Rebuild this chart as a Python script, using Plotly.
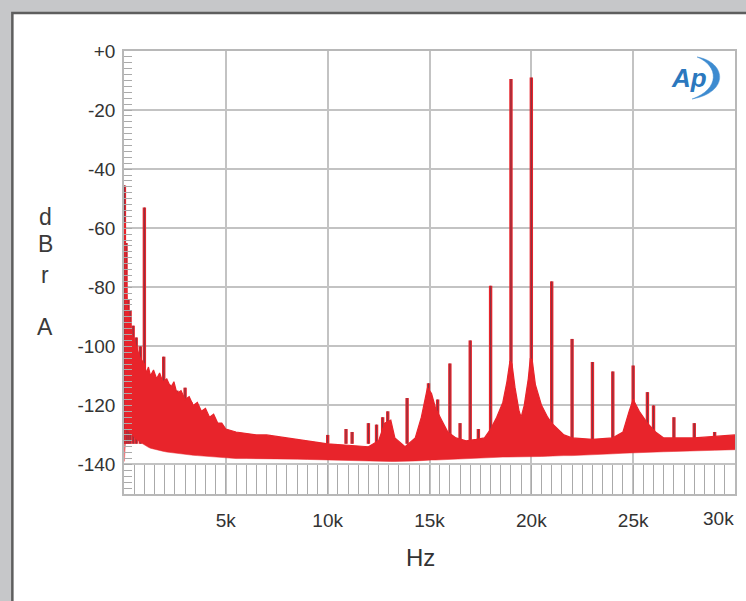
import plotly.graph_objects as go

# ---------------- data ----------------
# noise-floor band: upper and lower envelope (Hz, dBr A)
floor_hz = [20, 60, 100, 150, 250, 400, 600, 800, 1000, 1100, 1200, 1300, 1450, 1600, 1750,
            1900, 2100, 2300, 2450, 2600, 2800, 3000, 3200, 3400, 3600, 3800, 4000, 4200,
            4400, 4600, 4800, 5000, 5500, 6000, 6500, 7000, 7500, 8000, 8500, 9000,
            9500, 10000, 11000, 12000, 12500, 12800, 13100, 13300, 13800, 14300, 14600,
            14900, 15100, 15300, 15600, 15900, 16300, 16800, 17300, 17700, 18000, 18300,
            18600, 18800, 18950, 19050, 19200, 19400, 19500, 19650, 19850, 19950, 20050,
            20200, 20500, 20800, 21000, 21300, 21600, 22000, 23000, 24000, 24500, 24800,
            25000, 25300, 25700, 26100, 26500, 27000, 28000, 29000, 30000]
floor_top_db = [-58, -70, -78, -86, -90, -96, -100, -104, -106, -109, -107, -110, -108, -111, -109,
                -112, -111, -114, -112, -116, -115, -118, -117, -120, -119, -122, -121, -124,
                -123, -126, -126, -128, -129, -129.5, -130, -130, -130.5, -131, -131.5, -132,
                -132.5, -133, -133.5, -134, -132, -126, -125, -131, -134, -131, -124,
                -114, -116, -121, -125, -129, -131, -132, -131.5, -131, -128, -124,
                -119, -112, -105, -106, -114, -122, -124, -120, -111, -104, -105,
                -113, -120, -124, -126, -128, -130, -131, -131.5, -131, -129, -122,
                -118, -122, -126, -129, -131, -131, -131, -130.5, -130]
floor_bot_db = [-139, -130, -128, -128, -129, -130, -131.5, -132.5, -133.5, -134, -134.2, -134.5, -134.8, -135, -135.2,
                -135.5, -135.8, -136, -136.1, -136.2, -136.4, -136.5, -136.7, -136.9, -137, -137.1, -137.3, -137.4,
                -137.5, -137.6, -137.7, -137.8, -138, -138, -138, -138, -138, -138, -138.2, -138.3,
                -138.4, -138.5, -138.8, -139, -139, -139, -139, -139, -139, -138.8, -138.7,
                -138.5, -138.5, -138.5, -138.4, -138.3, -138.2, -138, -137.8, -137.7, -137.5, -137.5,
                -137.5, -137.5, -137.5, -137.5, -137.5, -137.5, -137.5, -137.5, -137.5, -137.5, -137.5,
                -137.4, -137.3, -137.2, -137.1, -137, -137, -137, -136.8, -136.4, -136.2, -136.1,
                -136, -136, -135.9, -135.8, -135.7, -135.6, -135.5, -135.2, -135]

# discrete spectral lines (Hz, dBr A)
spike_hz = [20, 100, 200, 300, 450, 600, 800, 1000, 1950, 2250, 2600, 3000, 3300, 3600, 4000,
            4300, 4600, 10000, 10900, 11200, 12000, 12400, 12700, 12950, 13900, 14950, 15400,
            16000, 16500, 17000, 17400, 18000, 19000, 20000, 21000, 22000, 23000,
            24000, 25000, 25700, 26000, 27000, 28000, 29000]
spike_db = [-45.5, -65, -84, -88, -93, -97, -100, -53, -103.5, -113, -115, -114, -119, -120.5,
            -122.5, -124, -126.5, -130, -128, -129, -126, -126.5, -124, -122, -117.5, -112.5,
            -118, -105.8, -126, -98, -128, -79.5, -9.5, -9, -78, -97.5, -105.3,
            -108.5, -106.5, -115.5, -120, -124, -126, -129]

x_tick_vals = [5000, 10000, 15000, 20000, 25000, 30000]
x_tick_text = ["5k", "10k", "15k", "20k", "25k", ""]
y_tick_vals = [0, -20, -40, -60, -80, -100, -120, -140]
y_tick_text = ["+0", "-20", "-40", "-60", "-80", "-100", "-120", "-140"]

# ---------------- layout geometry ----------------
W, H = 746, 601
ML, MR, MT, MB = 124, 9, 51, 107
PW, PH = W - ML - MR, H - MT - MB


def px(x):
    return (x - ML) / PW


def py(y):
    return 1 - (y - MT) / PH


SPIKE_BASE = -133
RED = "#e8242b"

sx, sy = [], []
for f, d in zip(spike_hz, spike_db):
    sx += [f, f, None]
    sy += [SPIKE_BASE, d, None]

fig = go.Figure()
# spectral lines first (red halo + darker core), noise band drawn over their bases
fig.add_trace(go.Scatter(x=sx, y=sy, mode="lines", line=dict(color=RED, width=3.4),
                         hoverinfo="skip"))
fig.add_trace(go.Scatter(x=sx, y=sy, mode="lines", line=dict(color="#7e3646", width=1.0),
                         hoverinfo="skip"))
fig.add_trace(go.Scatter(x=floor_hz, y=floor_bot_db, mode="lines",
                         line=dict(color=RED, width=0.5), hoverinfo="skip"))
fig.add_trace(go.Scatter(x=floor_hz, y=floor_top_db, mode="lines", fill="tonexty",
                         fillcolor=RED, line=dict(color=RED, width=1.2), hoverinfo="skip"))

FONT = "Arial, Liberation Sans, sans-serif"
GRID = "#c3c3c3"
TXT = "#333333"

fig.update_layout(
    width=W, height=H, margin=dict(l=ML, r=MR, t=MT, b=MB),
    paper_bgcolor="#c6c7c9", plot_bgcolor="white", showlegend=False,
    font=dict(family=FONT, color=TXT),
    xaxis=dict(range=[0, 30000], tickvals=x_tick_vals, ticktext=x_tick_text,
               showgrid=True, gridcolor=GRID, gridwidth=1.6, zeroline=False,
               showline=True, linecolor="#b8b8b8", linewidth=1.5, mirror=True,
               ticks="inside", ticklen=29, tickcolor="#aaaaaa", tickwidth=1,
               minor=dict(dtick=500, tick0=0, ticks="inside", ticklen=29,
                          tickcolor="#aaaaaa", tickwidth=1, showgrid=False),
               tickfont=dict(size=19, color=TXT), ticklabelstandoff=8),
    yaxis=dict(range=[-150, 0], tickvals=y_tick_vals, ticktext=y_tick_text,
               showgrid=True, gridcolor=GRID, gridwidth=1.6, zeroline=False,
               showline=True, linecolor="#b8b8b8", linewidth=1.5, mirror=True,
               ticks="inside", ticklen=8, tickcolor="#aaaaaa", tickwidth=1,
               minor=dict(dtick=2, tick0=0, ticks="inside", ticklen=8,
                          tickcolor="#aaaaaa", tickwidth=1, showgrid=False),
               tickfont=dict(size=19, color=TXT), ticklabelstandoff=3),
)

# white panel with dark top/left border
fig.add_shape(type="rect", xref="paper", yref="paper", layer="below",
              x0=px(12), x1=px(770), y0=py(620), y1=py(13),
              fillcolor="white", line=dict(color="#5e5e5e", width=2.5))

# last x tick label (kept inside the frame) and x-axis title
fig.add_annotation(x=30000, y=0, xref="x", yref="paper", yanchor="top", xanchor="right",
                   xshift=1, yshift=-12, text="30k", showarrow=False,
                   font=dict(size=19, color=TXT, family=FONT))
fig.add_annotation(x=px(421), y=py(557), xref="paper", yref="paper", text="Hz",
                   xanchor="center", yanchor="middle", showarrow=False,
                   font=dict(size=24, color=TXT, family=FONT))

# stacked y-axis title
for ch, yc in zip(["d", "B", "r", "A"], [217, 244, 275, 327]):
    fig.add_annotation(x=px(45), y=py(yc), xref="paper", yref="paper", text=ch,
                       xanchor="center", yanchor="middle", showarrow=False,
                       font=dict(size=23, color="#3a3a3a", family=FONT))

# Ap logo
fig.add_annotation(x=px(691), y=py(78), xref="paper", yref="paper",
                   text="<b><i>Ap</i></b>", xanchor="center", yanchor="middle",
                   showarrow=False, font=dict(size=26, color="#2b78be", family=FONT))


def pt(x, y):
    return f"{px(x):.5f},{py(y):.5f}"


swoosh = (f"M {pt(699, 57)} C {pt(728, 62)} {pt(732, 92)} {pt(694, 99)} "
          f"C {pt(722, 89)} {pt(721, 66)} {pt(699, 57)} Z")
fig.add_shape(type="path", xref="paper", yref="paper", path=swoosh,
              fillcolor="#3d8bd0", line=dict(color="#3d8bd0", width=0.5))

fig.write_html("out.html")
